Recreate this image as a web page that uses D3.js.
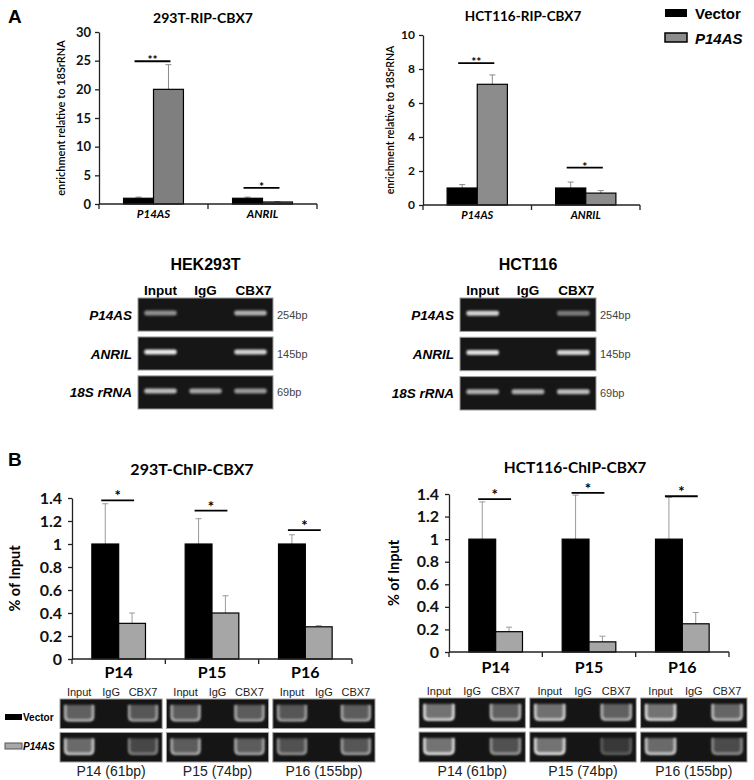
<!DOCTYPE html>
<html>
<head>
<meta charset="utf-8">
<script src="https://cdn.jsdelivr.net/npm/d3@7"></script>
<style>
  body { margin: 0; background: #fff; }
  svg { display: block; }
</style>
</head>
<body>
<svg id="fig" width="754" height="780"></svg>
<script>
// ---- data ----
const seriesNames = ["Vector", "P14AS"];

// A: RIP-CBX7 enrichment relative to 18SrRNA
const ripCategories = ["P14AS", "ANRIL"];
const rip293Vector = [1.0, 1.0];
const rip293VectorErr = [1.2, 1.2];
const rip293P14AS = [20.0, 0.35];
const rip293P14ASErr = [24.3, 0.42];
const rip293Sig = [24.9, 2.8];
const rip293Stars = ["**", "*"];
const rip293Ticks = [0, 5, 10, 15, 20, 25, 30];

const ripHctVector = [1.0, 1.0];
const ripHctVectorErr = [1.2, 1.35];
const ripHctP14AS = [7.1, 0.7];
const ripHctP14ASErr = [7.65, 0.85];
const ripHctSig = [8.35, 2.2];
const ripHctStars = ["**", "*"];
const ripHctTicks = [0, 2, 4, 6, 8, 10];

// B: ChIP-CBX7, % of input
const chipLoci = ["P14", "P15", "P16"];
const chip293Vector = [1.0, 1.0, 1.0];
const chip293VectorErr = [1.35, 1.22, 1.08];
const chip293P14AS = [0.31, 0.40, 0.28];
const chip293P14ASErr = [0.40, 0.55, 0.29];
const chip293Sig = [1.38, 1.29, 1.12];
const chipHctVector = [1.0, 1.0, 1.0];
const chipHctVectorErr = [1.33, 1.39, 1.37];
const chipHctP14AS = [0.18, 0.09, 0.25];
const chipHctP14ASErr = [0.22, 0.14, 0.35];
const chipHctSig = [1.355, 1.41, 1.38];
const chipStars = ["*", "*", "*"];
const chipTicks = [0, 0.2, 0.4, 0.6, 0.8, 1, 1.2, 1.4];

// gel lanes / band brightness (0 = no band)
const lanes = ["Input", "IgG", "CBX7"];
const rnaTargets = ["P14AS", "ANRIL", "18S rRNA"];
const rnaSizes = ["254bp", "145bp", "69bp"];
const hek293tBands = [[0.55, 0, 0.7], [0.95, 0, 0.85], [0.75, 0.65, 0.6]];
const hct116Bands = [[0.85, 0, 0.45], [0.9, 0, 0.85], [0.7, 0.7, 0.75]];

const chipSizes = ["P14 (61bp)", "P15 (74bp)", "P16 (155bp)"];
const chip293GelVector = [[0.75, 0, 0.65], [0.7, 0, 0.7], [0.65, 0, 0.7]];
const chip293GelP14AS = [[0.85, 0, 0.5], [0.7, 0, 0.7], [0.6, 0, 0.65]];
const chipHctGelVector = [[0.95, 0, 0.75], [0.9, 0, 0.75], [0.95, 0, 0.8]];
const chipHctGelP14AS = [[0.95, 0, 0.6], [0.95, 0, 0.35], [0.85, 0, 0.55]];

// ---- drawing ----
const svg = d3.select("#fig");
const CHART_FONT = "Lato, 'Open Sans', sans-serif";
const ARIAL = "'Liberation Sans', Arial, sans-serif";

const defs = svg.append("defs");
defs.append("filter").attr("id", "blur").attr("x", "-30%").attr("y", "-100%")
  .attr("width", "160%").attr("height", "300%")
  .append("feGaussianBlur").attr("stdDeviation", 1.1);
defs.append("filter").attr("id", "blurSoft").attr("x", "-30%").attr("y", "-30%")
  .attr("width", "160%").attr("height", "160%")
  .append("feGaussianBlur").attr("stdDeviation", 0.9);

function barChart(o) {
  const g = svg.append("g");
  const x = d3.scaleBand().domain(o.categories).range([o.left, o.right]);
  const y = d3.scaleLinear().domain([0, o.max]).range([o.bottom, o.top]);
  const sub = d3.scaleBand().domain(seriesNames).range([0, x.bandwidth()])
    .paddingInner(0).paddingOuter(o.outerPad);
  const colors = { Vector: "#000", P14AS: o.gray };

  const marks = o.categories.flatMap((c, i) => [
    { c, s: "Vector", v: o.vector[i], e: o.vectorErr[i] },
    { c, s: "P14AS", v: o.p14as[i], e: o.p14asErr[i] },
  ]);

  // error bars (upper only)
  const errG = g.selectAll("g.err").data(marks).enter().append("g")
    .attr("stroke", o.errColor).attr("stroke-width", 1);
  errG.append("line")
    .attr("x1", (d) => x(d.c) + sub(d.s) + sub.bandwidth() / 2)
    .attr("x2", (d) => x(d.c) + sub(d.s) + sub.bandwidth() / 2)
    .attr("y1", (d) => y(d.v)).attr("y2", (d) => y(d.e));
  errG.append("line")
    .attr("x1", (d) => x(d.c) + sub(d.s) + sub.bandwidth() / 2 - 3)
    .attr("x2", (d) => x(d.c) + sub(d.s) + sub.bandwidth() / 2 + 3)
    .attr("y1", (d) => y(d.e)).attr("y2", (d) => y(d.e));

  g.selectAll("rect.bar").data(marks).enter().append("rect")
    .attr("x", (d) => x(d.c) + sub(d.s))
    .attr("y", (d) => y(d.v))
    .attr("width", sub.bandwidth())
    .attr("height", (d) => y(0) - y(d.v))
    .attr("fill", (d) => colors[d.s])
    .attr("stroke", "#000").attr("stroke-width", 1.2);

  // y axis
  const ya = g.append("g").attr("transform", `translate(${o.left},0)`)
    .call(d3.axisLeft(y).tickValues(o.ticks).tickSize(4).tickSizeOuter(0)
      .tickPadding(o.tickPad).tickFormat((d) => String(+d.toFixed(1))));
  ya.selectAll("path,line").attr("stroke", "#222").attr("stroke-width", 1.3);
  ya.selectAll("text").attr("font-family", CHART_FONT).attr("font-weight", 700)
    .attr("font-size", o.tickSize).attr("fill", "#111");

  // x axis with ticks at category boundaries
  g.append("line").attr("x1", o.left).attr("x2", o.right)
    .attr("y1", y(0)).attr("y2", y(0)).attr("stroke", "#222").attr("stroke-width", 1.3);
  const bounds = o.categories.map((c) => x(c)).concat([o.right]);
  g.selectAll("line.xt").data(bounds).enter().append("line")
    .attr("x1", (d) => d).attr("x2", (d) => d)
    .attr("y1", y(0)).attr("y2", y(0) + 5)
    .attr("stroke", "#222").attr("stroke-width", 1.3);

  g.selectAll("text.cat").data(o.categories).enter().append("text")
    .attr("x", (d) => x(d) + x.bandwidth() / 2)
    .attr("y", y(0) + o.catDy)
    .attr("text-anchor", "middle")
    .attr("font-family", CHART_FONT).attr("font-weight", 700)
    .attr("font-style", o.catItalic ? "italic" : "normal")
    .attr("font-size", o.catSize)
    .text((d) => d);

  // significance bars
  o.categories.forEach((c, i) => {
    const x1 = x(c) + sub("Vector") + sub.bandwidth() / 2 - 4;
    const x2 = x(c) + sub("P14AS") + sub.bandwidth() / 2 + 2;
    const yy = y(o.sig[i]);
    g.append("line").attr("x1", x1).attr("x2", x2).attr("y1", yy).attr("y2", yy)
      .attr("stroke", "#000").attr("stroke-width", 1.8);
    g.append("text").attr("x", (x1 + x2) / 2).attr("y", yy + o.starDy)
      .attr("text-anchor", "middle").attr("font-family", CHART_FONT).attr("fill", "#000")
      .attr("font-weight", 700).attr("font-size", o.starSize).text(o.stars[i]);
  });

  g.append("text").attr("x", o.titleX).attr("y", o.titleY).attr("text-anchor", "middle")
    .attr("font-family", CHART_FONT).attr("font-weight", 700)
    .attr("font-size", o.titleSize).text(o.title);

  g.append("text")
    .attr("transform", `translate(${o.ylabX},${(o.top + o.bottom) / 2}) rotate(-90)`)
    .attr("text-anchor", "middle").attr("font-family", CHART_FONT)
    .attr("font-weight", o.ylabWeight).attr("font-size", o.ylabSize)
    .text(o.ylab);
}

function rnaGel(o) {
  const g = svg.append("g");
  const rows = d3.scaleBand().domain(rnaTargets).range([o.top, o.bottom]).paddingInner(0.15);
  const lx = d3.scalePoint().domain(lanes).range([o.left, o.right]).padding(0.5);
  const bw = (o.right - o.left) * 0.24;

  g.append("text").attr("x", (o.left + o.right) / 2).attr("y", o.top - 28)
    .attr("text-anchor", "middle").attr("font-family", ARIAL).attr("font-weight", 700)
    .attr("font-size", 16).text(o.title);
  g.selectAll("text.lane").data(lanes).enter().append("text")
    .attr("x", (d) => lx(d) + (d === "CBX7" ? 3 : 0)).attr("y", o.top - 3)
    .attr("text-anchor", "middle").attr("font-family", ARIAL).attr("font-weight", 700)
    .attr("font-size", 13.5).text((d) => d);

  rnaTargets.forEach((t, r) => {
    const y0 = rows(t), h = rows.bandwidth();
    g.append("rect").attr("x", o.left).attr("y", y0).attr("width", o.right - o.left)
      .attr("height", h).attr("fill", "#161616").attr("stroke", "#9a9a9a").attr("stroke-width", 1);
    lanes.forEach((l, k) => {
      const v = o.bands[r][k];
      if (!v) return;
      g.append("rect").attr("x", lx(l) - bw / 2).attr("y", y0 + h / 2 - 4)
        .attr("width", bw).attr("height", 5).attr("rx", 2)
        .attr("fill", d3.interpolateRgb("#161616", "#f4f4f4")(v))
        .attr("filter", "url(#blur)");
    });
    g.append("text").attr("x", o.left - 6).attr("y", y0 + h / 2 + 5)
      .attr("text-anchor", "end").attr("font-family", ARIAL).attr("font-weight", 700)
      .attr("font-style", "italic").attr("font-size", 13.5).text(t);
    g.append("text").attr("x", o.right + 4).attr("y", y0 + h / 2 + 4)
      .attr("font-family", ARIAL).attr("font-size", 11).attr("fill", "#444")
      .text(rnaSizes[r]);
  });
}

function chipGels(o) {
  const g = svg.append("g");
  const gx = d3.scaleBand().domain(chipLoci).range([o.left, o.right]).paddingInner(0.04);
  const rows = d3.scaleBand().domain(seriesNames).range([o.top, o.bottom]).paddingInner(0.12);
  const data = { Vector: o.vector, P14AS: o.p14as };

  chipLoci.forEach((loc, j) => {
    const gl = gx(loc), gw = gx.bandwidth();
    const lx = d3.scalePoint().domain(lanes).range([gl, gl + gw]).padding(0.6);
    const bw = gw * 0.27;
    g.selectAll(null).data(lanes).enter().append("text")
      .attr("x", (d) => lx(d)).attr("y", o.top - 3)
      .attr("text-anchor", "middle").attr("font-family", ARIAL)
      .attr("font-size", 11).attr("fill", "#222").text((d) => d);
    seriesNames.forEach((s) => {
      const y0 = rows(s), h = rows.bandwidth();
      g.append("rect").attr("x", gl).attr("y", y0).attr("width", gw).attr("height", h)
        .attr("fill", "#151515").attr("stroke", "#a0a0a0").attr("stroke-width", 1);
      lanes.forEach((l, k) => {
        const v = data[s][j][k];
        if (!v) return;
        const x1 = lx(l) - bw / 2, x2 = lx(l) + bw / 2;
        const t = y0 + h * 0.2, b = y0 + h * 0.72, r = 4;
        const col = d3.interpolateRgb("#151515", "#f2f2f2")(v);
        g.append("rect").attr("x", x1).attr("y", t).attr("width", bw).attr("height", b - t)
          .attr("fill", d3.interpolateRgb("#151515", "#f2f2f2")(v * 0.45))
          .attr("filter", "url(#blurSoft)");
        g.append("path")
          .attr("d", `M${x1},${t} L${x1},${b - r} Q${x1},${b} ${x1 + r},${b} L${x2 - r},${b} Q${x2},${b} ${x2},${b - r} L${x2},${t}`)
          .attr("fill", "none").attr("stroke", col).attr("stroke-width", 2.6)
          .attr("filter", "url(#blurSoft)");
      });
    });
    g.append("text").attr("x", gl + gw / 2).attr("y", o.bottom + 14)
      .attr("text-anchor", "middle").attr("font-family", ARIAL)
      .attr("font-size", 14).attr("fill", "#222").text(chipSizes[j]);
  });
}

// panel A charts
barChart({
  categories: ripCategories, vector: rip293Vector, vectorErr: rip293VectorErr,
  p14as: rip293P14AS, p14asErr: rip293P14ASErr, sig: rip293Sig, stars: rip293Stars,
  ticks: rip293Ticks, max: 30, left: 99, right: 317, top: 32, bottom: 204,
  outerPad: 0.82, gray: "#7f7f7f", errColor: "#8a8a8a", tickSize: 13, tickPad: 4,
  catDy: 14, catSize: 11.5, catItalic: true, starDy: 3, starSize: 12,
  title: "293T-RIP-CBX7", titleX: 203, titleY: 23, titleSize: 14,
  ylab: "enrichment relative to 18SrRNA", ylabX: 65, ylabSize: 11, ylabWeight: 600,
});
barChart({
  categories: ripCategories, vector: ripHctVector, vectorErr: ripHctVectorErr,
  p14as: ripHctP14AS, p14asErr: ripHctP14ASErr, sig: ripHctSig, stars: ripHctStars,
  ticks: ripHctTicks, max: 10, left: 423, right: 640, top: 35, bottom: 205,
  outerPad: 0.8, gray: "#8c8c8c", errColor: "#8a8a8a", tickSize: 12, tickPad: 4,
  catDy: 14, catSize: 11, catItalic: true, starDy: 3, starSize: 12,
  title: "HCT116-RIP-CBX7", titleX: 523, titleY: 21, titleSize: 13.5,
  ylab: "enrichment relative to 18SrRNA", ylabX: 394, ylabSize: 10.5, ylabWeight: 600,
});

// legend A
const legA = svg.append("g").attr("font-family", ARIAL).attr("font-weight", 700).attr("font-size", 15);
legA.append("rect").attr("x", 665).attr("y", 9).attr("width", 22).attr("height", 8).attr("fill", "#000");
legA.append("text").attr("x", 695).attr("y", 19).text(seriesNames[0]);
legA.append("rect").attr("x", 665).attr("y", 33).attr("width", 22).attr("height", 9)
  .attr("fill", "#8c8c8c").attr("stroke", "#000").attr("stroke-width", 1.5);
legA.append("text").attr("x", 695).attr("y", 44).attr("font-style", "italic").text(seriesNames[1]);

rnaGel({ title: "HEK293T", left: 138, right: 273, top: 298, bottom: 409, bands: hek293tBands });
rnaGel({ title: "HCT116", left: 460, right: 596, top: 298, bottom: 410, bands: hct116Bands });

// panel B charts
barChart({
  categories: chipLoci, vector: chip293Vector, vectorErr: chip293VectorErr,
  p14as: chip293P14AS, p14asErr: chip293P14ASErr, sig: chip293Sig, stars: chipStars,
  ticks: chipTicks, max: 1.4, left: 72, right: 352, top: 498, bottom: 659,
  outerPad: 0.74, gray: "#a6a6a6", errColor: "#9a9a9a", tickSize: 16, tickPad: 6,
  catDy: 19, catSize: 16, catItalic: false, starDy: 1, starSize: 15,
  title: "293T-ChIP-CBX7", titleX: 192, titleY: 475, titleSize: 16,
  ylab: "% of Input", ylabX: 20, ylabSize: 14.5, ylabWeight: 700,
});
barChart({
  categories: chipLoci, vector: chipHctVector, vectorErr: chipHctVectorErr,
  p14as: chipHctP14AS, p14asErr: chipHctP14ASErr, sig: chipHctSig, stars: chipStars,
  ticks: chipTicks, max: 1.4, left: 449, right: 729, top: 494, bottom: 652,
  outerPad: 0.74, gray: "#a6a6a6", errColor: "#9a9a9a", tickSize: 16, tickPad: 6,
  catDy: 21, catSize: 16, catItalic: false, starDy: 1, starSize: 15,
  title: "HCT116-ChIP-CBX7", titleX: 575, titleY: 473, titleSize: 15.5,
  ylab: "% of Input", ylabX: 399, ylabSize: 14.5, ylabWeight: 700,
});

chipGels({ left: 60, right: 375, top: 699, bottom: 762, vector: chip293GelVector, p14as: chip293GelP14AS });
chipGels({ left: 419, right: 747, top: 698, bottom: 762, vector: chipHctGelVector, p14as: chipHctGelP14AS });

// legend B
const legB = svg.append("g").attr("font-family", ARIAL).attr("font-weight", 700).attr("font-size", 10);
legB.append("rect").attr("x", 5).attr("y", 714).attr("width", 17).attr("height", 6).attr("fill", "#000");
legB.append("text").attr("x", 23).attr("y", 721).text(seriesNames[0]);
legB.append("rect").attr("x", 5).attr("y", 743).attr("width", 17).attr("height", 6)
  .attr("fill", "#a8a8a8").attr("stroke", "#555").attr("stroke-width", 1);
legB.append("text").attr("x", 23).attr("y", 750).attr("font-style", "italic").text(seriesNames[1]);

// panel letters
svg.append("text").attr("x", 8).attr("y", 23).attr("font-family", ARIAL)
  .attr("font-weight", 700).attr("font-size", 19).text("A");
svg.append("text").attr("x", 8).attr("y", 466).attr("font-family", ARIAL)
  .attr("font-weight", 700).attr("font-size", 19).text("B");
</script>
</body>
</html>
